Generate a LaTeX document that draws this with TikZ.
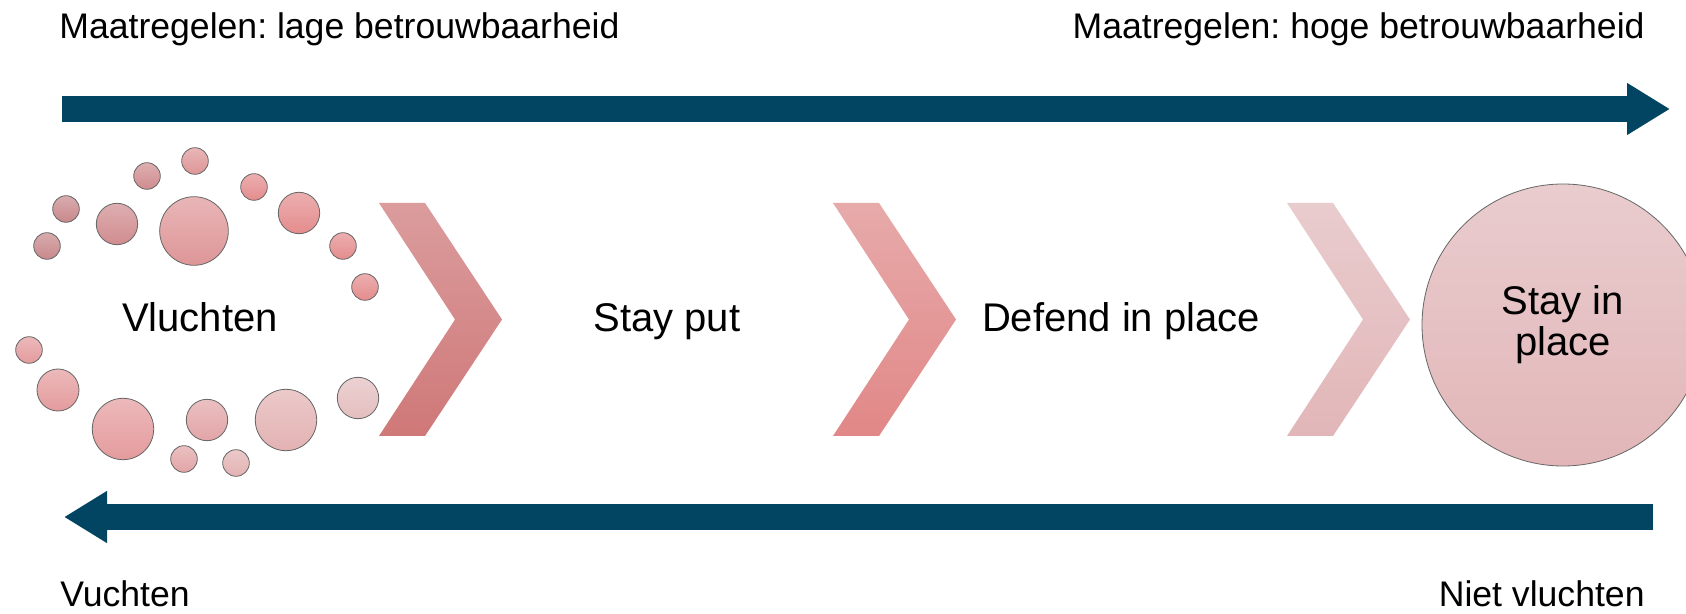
\documentclass[tikz,border=0pt]{standalone}
\usepackage{fontspec}
\setmainfont{Liberation Sans}
\usepackage{tikz}
\usetikzlibrary{arrows.meta}
\frenchspacing
\definecolor{arrowblue}{RGB}{2,69,98}
\definecolor{chevAtop}{RGB}{219,156,157}
\definecolor{chevAbot}{RGB}{207,120,120}
\definecolor{chevBtop}{RGB}{231,170,170}
\definecolor{chevBbot}{RGB}{225,135,135}
\definecolor{chevCtop}{RGB}{233,204,206}
\definecolor{chevCbot}{RGB}{226,182,184}
\definecolor{dotA}{RGB}{200,136,139}
\definecolor{dotB}{RGB}{208,140,143}
\definecolor{dotC}{RGB}{222,150,152}
\definecolor{dotD}{RGB}{228,140,141}
\definecolor{dotE}{RGB}{228,155,157}
\definecolor{dotF}{RGB}{226,165,167}
\definecolor{dotG}{RGB}{227,178,179}
\definecolor{dotH}{RGB}{228,190,191}
\tikzset{
  bigarrow/.style={draw=arrowblue, line width=13pt,
    -{Triangle[length=21.5pt, width=24.5pt]}},
  edgelabel/.style={inner sep=0pt, font=\fontsize{17.8}{21}\selectfont},
  steplabel/.style={inner sep=0pt, anchor=base, font=\fontsize{20}{24}\selectfont},
  dot/.style={draw=gray!80!black, line width=0.4pt},
  bigcirc/.style={circle, draw=gray!80!black, line width=0.4pt,
    minimum size=141pt, align=center, inner sep=0pt,
    top color=chevCtop, bottom color=chevCbot,
    font=\fontsize{20}{20.5}\selectfont}
}
\begin{document}
\begin{tikzpicture}[x=0.5pt,y=-0.5pt]
  \clip (0,0) rectangle (1686,614);
  \fill[white] (0,0) rectangle (1686,614);
  % labels at the edges
  \node[edgelabel, anchor=base west] (lowrel) at (59,39) {Maatregelen: lage betrouwbaarheid};
  \node[edgelabel, anchor=base east] (highrel) at (1645,39) {Maatregelen: hoge betrouwbaarheid};
  \node[edgelabel, anchor=base west] (flee) at (60,606) {Vuchten};
  \node[edgelabel, anchor=base east] (noflee) at (1645,606) {Niet vluchten};
  % the two block arrows
  \coordinate (topstart) at (62,109);
  \coordinate (topend) at (1670,109);
  \coordinate (botstart) at (1653,517);
  \coordinate (botend) at (64,517);
  \draw[bigarrow] (topstart) -- (topend);
  \draw[bigarrow] (botstart) -- (botend);
  % scattered dots round Vluchten
  \foreach \px/\py/\r/\c in {
      195/161/13.3/dotC, 147/176/13.3/dotB, 254/187/13.3/dotD,
      66/209/13.3/dotA, 117/224/20.7/dotB, 194/231/34.3/dotC,
      299/213/20.7/dotD, 47/246/13.3/dotA, 343/246/13.3/dotD,
      365/287/13.3/dotD, 29/350/13.3/dotE, 58/390/21/dotE,
      123/429/30.7/dotE, 207/420/20.7/dotF, 286/420/30.7/dotG,
      358/398/20.7/dotH, 184/459/13.3/dotF, 236/463/13.3/dotG}
    \shade[dot, top color=\c!70!white, bottom color=\c] (\px,\py) circle[radius=\r];
  % chevrons
  \foreach \cx/\ct/\cb in {379/chevAtop/chevAbot, 833/chevBtop/chevBbot, 1287/chevCtop/chevCbot}
    \shade[top color=\ct, bottom color=\cb] (\cx,203) -- ++(46,0) -- ++(77,116.5)
      -- ++(-77,116.5) -- ++(-46,0) -- ++(76,-116.5) -- cycle;
  % step texts
  \node[steplabel] (vlucht) at (200,332) {Vluchten};
  \node[steplabel] (stayput) at (667,332) {Stay put};
  \node[steplabel] (defend) at (1121,332) {Defend in place};
  \node[bigcirc] (stayin) at (1563,325) {Stay in\\place};
\end{tikzpicture}
\end{document}
